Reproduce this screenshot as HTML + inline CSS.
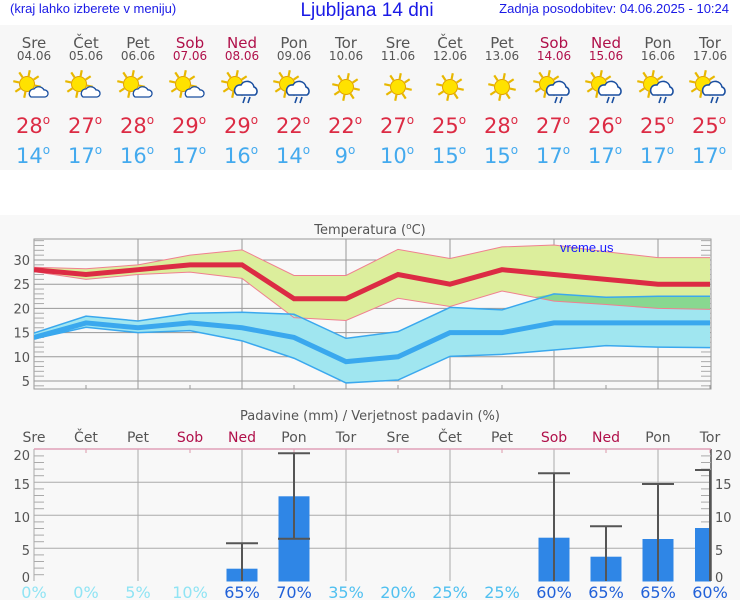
<!DOCTYPE html>
<html><head><meta charset="utf-8"><style>
html,body{margin:0;padding:0;background:#fff;width:740px;height:600px;overflow:hidden}
svg{display:block}
</style></head><body>
<svg id="s" width="740" height="600" xmlns="http://www.w3.org/2000/svg" font-family="DejaVu Sans, sans-serif">
<rect x="0" y="25" width="732" height="145" fill="#f7f7f7"/>
<rect x="0" y="215" width="740" height="385" fill="#f8f8f8"/>
<text x="10" y="13" font-family="Liberation Sans, sans-serif" font-size="13" fill="#1a1ae6">(kraj lahko izberete v meniju)</text>
<text x="367" y="16" text-anchor="middle" font-family="Liberation Sans, sans-serif" font-size="19" fill="#1a1ae6">Ljubljana 14 dni</text>
<text x="729" y="13" text-anchor="end" font-family="Liberation Sans, sans-serif" font-size="13" fill="#1a1ae6">Zadnja posodobitev: 04.06.2025 - 10:24</text>
<text x="370" y="234" text-anchor="middle" font-size="13" fill="#555">Temperatura (<tspan font-size="9" dy="-5">o</tspan><tspan dy="5">C)</tspan></text>
<text x="370" y="420" text-anchor="middle" font-size="13" fill="#555">Padavine (mm) / Verjetnost padavin (%)</text>
<g id="g"></g>
</svg>
<script>
const g=document.getElementById('g');let h='';
const X=i=>34+52*i;
const names=['Sre','Čet','Pet','Sob','Ned','Pon','Tor','Sre','Čet','Pet','Sob','Ned','Pon','Tor'];
const dates=['04.06','05.06','06.06','07.06','08.06','09.06','10.06','11.06','12.06','13.06','14.06','15.06','16.06','17.06'];
const hi=[28,27,28,29,29,22,22,27,25,28,27,26,25,25];
const lo=[14,17,16,17,16,14,9,10,15,15,17,17,17,17];
const rain=[0,0,0,0,1,1,0,0,0,0,1,1,1,1];
const wk=i=>(i%7==3||i%7==4);
for(let i=0;i<14;i++){
 const x=X(i),c=wk(i)?'#b0104a':'#555';
 h+=`<text x="${x}" y="48" text-anchor="middle" font-size="15" fill="${c}">${names[i]}</text>`;
 h+=`<text x="${x}" y="60" text-anchor="middle" font-size="12" fill="${c}">${dates[i]}</text>`;
 const sun=!(i>=6&&i<=9);
 let sx=sun?x-7:x,sy=sun?84:87;
 let r='';for(let k=0;k<8;k++){const a=k*Math.PI/4+0.2;r+=`<line x1="${sx+Math.cos(a)*8}" y1="${sy+Math.sin(a)*8}" x2="${sx+Math.cos(a)*14}" y2="${sy+Math.sin(a)*14}" stroke="#e8b800" stroke-width="2.2"/>`}
 h+=r+`<circle cx="${sx}" cy="${sy}" r="7.5" fill="#ffe200" stroke="#e0a000" stroke-width="1"/>`;
 if(sun){
  if(rain[i]){h+=`<path d="M${x-5} ${sy+11} a5.5 5.5 0 0 1 4-10 a7 7 0 0 1 13 2 a4.5 4.5 0 0 1 1 8 z" fill="#fff" stroke="#1a4fa0" stroke-width="1.6"/><line x1="${x+3}" y1="${sy+13}" x2="${x+1}" y2="${sy+19}" stroke="#1a4fa0" stroke-width="1.6"/><line x1="${x+8}" y1="${sy+13}" x2="${x+6}" y2="${sy+19}" stroke="#1a4fa0" stroke-width="1.6"/>`}
  else{h+=`<path d="M${x-3} ${sy+13} a4.5 4.5 0 0 1 3-8 a6 6 0 0 1 10 1 a3.5 3.5 0 0 1 1 7 z" fill="#fff" stroke="#1a4fa0" stroke-width="1.3"/>`}
 }
 h+=`<text x="${x-1}" y="133" text-anchor="middle" font-size="21" fill="#dc2b44">${hi[i]}<tspan font-size="12" dy="-9">o</tspan></text>`;
 h+=`<text x="${x-1}" y="163" text-anchor="middle" font-size="21" fill="#44aaee">${lo[i]}<tspan font-size="12" dy="-9">o</tspan></text>`;
}
const Y=t=>260+(30-t)*4.84;
h+=`<rect x="34" y="239" width="677" height="150" fill="#f8f8f8" stroke="#999"/>`;
for(const t of [5,10,15,20,25,30])h+=`<line x1="34" x2="711" y1="${Y(t)}" y2="${Y(t)}" stroke="#999"/><text x="30" y="${Y(t)+5}" text-anchor="end" font-size="13" fill="#555">${t}</text>`;
for(let t=4;t<=34;t++){if(t%5)h+=`<line x1="34" x2="44" y1="${Y(t)}" y2="${Y(t)}" stroke="#aaa"/><line x1="701" x2="711" y1="${Y(t)}" y2="${Y(t)}" stroke="#aaa"/>`}
for(let i=2;i<14;i+=2)h+=`<line x1="${X(i)}" x2="${X(i)}" y1="239" y2="389" stroke="#999"/>`;
for(let i=1;i<14;i+=2)h+=`<line x1="${X(i)}" x2="${X(i)}" y1="385" y2="389" stroke="#999"/>`;
const hu=[28.5,28.2,29,31,32.1,26.8,26.8,32.2,30.3,32.7,33.1,31.7,30.5,30.5];
const hl=[27.6,26,27,27.5,26.2,18.1,17.5,22.1,20.4,23.6,21.5,20.8,20,19.8];
const lu=[14.9,18.4,17.4,19,19.2,18.8,13.8,15.2,20.2,19.7,23,22.3,22.5,22.5];
const ll=[13.7,16.1,15,15.4,13.3,9.7,4.6,5.2,10.1,10.5,11.4,12.3,12,11.9];
const P=a=>a.map((v,i)=>`${X(i)},${Y(v)}`).join(' ');
const band=(u,l)=>P(u)+' '+l.map((v,i)=>`${X(i)},${Y(v)}`).reverse().join(' ');
h+=`<clipPath id="cp"><rect x="34" y="239" width="677" height="150"/></clipPath><g clip-path="url(#cp)">`;
h+=`<polygon points="${band(hu,hl)}" fill="#dcee9c"/>`;
h+=`<polygon points="${band(lu,ll)}" fill="#a0e6f0"/>`;
h+=`<polygon points="${X(9.6)},${Y(22.3)} ${X(10)},${Y(23)} ${X(11)},${Y(22.3)} ${X(12)},${Y(22.5)} ${X(13)},${Y(22.5)} ${X(13)},${Y(19.8)} ${X(12)},${Y(20)} ${X(11)},${Y(20.8)} ${X(10)},${Y(21.5)}" fill="#88d890"/>`;
h+=`<polygon points="${X(4.9)},${Y(19.1)} ${X(5)},${Y(18.8)} ${X(5.1)},${Y(17.9)}" fill="#88d890"/>`;
h+=`<polyline points="${P(hu)}" fill="none" stroke="#f08090" stroke-width="1"/><polyline points="${P(hl)}" fill="none" stroke="#f08090" stroke-width="1"/>`;
h+=`<polyline points="${P(lu)}" fill="none" stroke="#3aa8ee" stroke-width="1.5"/><polyline points="${P(ll)}" fill="none" stroke="#3aa8ee" stroke-width="1.5"/>`;
h+=`<polyline points="${P(hi)}" fill="none" stroke="#dc2b44" stroke-width="5"/>`;
h+=`<polyline points="${P(lo)}" fill="none" stroke="#3aa8ee" stroke-width="5"/>`;
h+=`</g><text x="560" y="252" font-family="Liberation Sans, sans-serif" font-size="13" fill="#1a1aff">vreme.us</text>`;
const R=v=>581.3-6.6*v;
for(let i=0;i<14;i++)h+=`<text x="${X(i)}" y="442" text-anchor="middle" font-size="14" fill="${wk(i)?'#b0104a':'#555'}">${names[i]}</text>`;
for(const v of [5,10,15])h+=`<line x1="34" x2="711" y1="${R(v)}" y2="${R(v)}" stroke="#aaa"/>`;
for(let i=2;i<14;i+=2)h+=`<line x1="${X(i)}" x2="${X(i)}" y1="449" y2="581" stroke="#aaa"/>`;
for(let i=1;i<14;i+=2)h+=`<line x1="${X(i)}" x2="${X(i)}" y1="449" y2="453" stroke="#d9a"/>`;
h+=`<line x1="34" x2="34" y1="449" y2="581" stroke="#aaa"/><line x1="711" x2="711" y1="449" y2="581" stroke="#555" stroke-width="1.5"/>`;
h+=`<line x1="34" x2="711" y1="449" y2="449" stroke="#e0a0b8" stroke-width="1.5"/>`;
for(let v=0;v<=20;v++){if(v%5)h+=`<line x1="34" x2="44" y1="${R(v)}" y2="${R(v)}" stroke="#aaa"/><line x1="701" x2="711" y1="${R(v)}" y2="${R(v)}" stroke="#aaa"/>`}
for(const [v,y] of [[0,582],[5,555],[10,522],[15,489],[20,460]]){h+=`<text x="30" y="${y}" text-anchor="end" font-size="13" fill="#555">${v}</text><text x="715" y="${y}" font-size="13" fill="#555">${v}</text>`}
const bars=[[4,568.7],[5,496.3],[10,537.7],[11,556.7],[12,539],[13,528]];
for(const [i,t] of bars){const x=X(i);const x0=i==13?695:x-15.5;const w=i==13?16:31;h+=`<rect x="${x0}" y="${t}" width="${w}" height="${581.5-t}" fill="#2f86e6"/>`}
const eb=[[4,543.3,581],[5,453.3,538.7],[10,473.3,581],[11,526.3,581],[12,484,581],[13,470,581]];
for(const [i,t,b] of eb){const x=X(i);h+=`<line x1="${x}" x2="${x}" y1="${t}" y2="${b}" stroke="#555" stroke-width="2"/>`;
 h+=`<line x1="${i==13?695:x-16}" x2="${i==13?x:x+16}" y1="${t}" y2="${t}" stroke="#555" stroke-width="2"/>`;
 if(b<580)h+=`<line x1="${x-16}" x2="${x+16}" y1="${b}" y2="${b}" stroke="#555" stroke-width="2"/>`;}
const pc=[0,0,5,10,65,70,35,20,25,25,60,65,65,60];
for(let i=0;i<14;i++){const p=pc[i];const c=p>=60?'#2060d8':p>=20?'#50c0f0':'#90e4f4';h+=`<text x="${X(i)}" y="598" text-anchor="middle" font-size="16" fill="${c}">${p}%</text>`}
g.innerHTML=h;
</script>
</body></html>
